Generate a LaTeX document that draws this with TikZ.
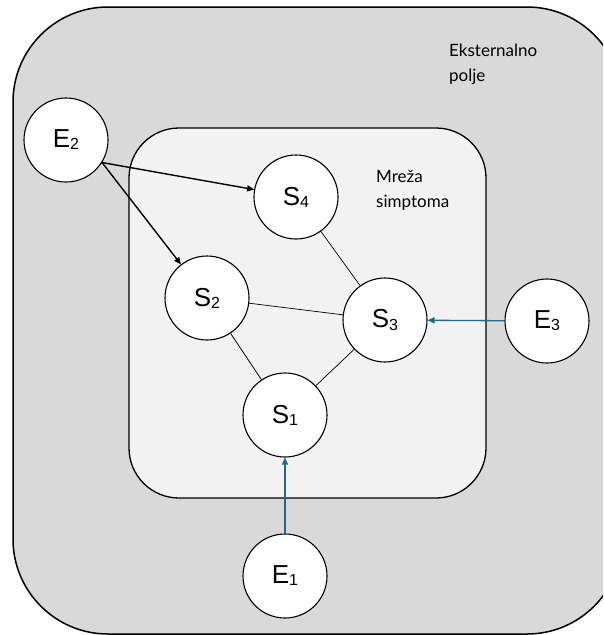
\documentclass[tikz,border=0pt]{standalone}
\usepackage{fontspec}
\setmainfont{Liberation Sans}
\newfontfamily\notefont{Lato}
\usetikzlibrary{arrows.meta}
\definecolor{outerfill}{HTML}{D9D9D9}
\definecolor{innerfill}{HTML}{F2F2F2}
\definecolor{linkblue}{HTML}{1F6A8A}
\newcommand{\lowsub}[1]{\raisebox{-0.08em}{\fontsize{16}{16}\selectfont #1}}

\begin{document}
\begin{tikzpicture}[x=1pt,y=-1pt,>={Triangle[length=7pt,width=6pt]},
  main node/.style={circle,draw,fill=white,line width=1.1pt,minimum size=84pt,inner sep=0pt,font=\fontsize{26}{26}\selectfont},
  note/.style={align=left,anchor=north west,inner sep=0pt,font=\notefont\fontsize{17}{25}\selectfont}]
  \useasboundingbox (0,0) rectangle (603,635);
  \clip (0,0) rectangle (603,635);
  % fields
  \draw[fill=outerfill,line width=1.5pt,rounded corners=95pt] (13,7) rectangle (622,634);
  \draw[fill=innerfill,line width=1.3pt,rounded corners=50pt] (129,128) rectangle (486,498);
  \node[note] (ext) at (449,44) {Eksternalno\\polje};
  \node[note] (net) at (376,170) {Mreža\\simptoma};

  \node[main node] (E2) at (66,140) {E\lowsub{2}};
  \node[main node] (S4) at (296,197) {S\lowsub{4}};
  \node[main node] (S2) at (207,298) {S\lowsub{2}};
  \node[main node] (S3) at (385,320) {S\lowsub{3}};
  \node[main node] (S1) at (285,415) {S\lowsub{1}};
  \node[main node] (E3) at (547,321) {E\lowsub{3}};
  \node[main node] (E1) at (285,576) {E\lowsub{1}};

  \path[line width=0.7pt]
    (S4) edge (S3)
    (S2) edge (S3)
    (S2) edge (S1)
    (S3) edge (S1)
    ;
  \path[->,line width=1.4pt]
    (E2.-32) edge (S4)
    (E2.-32) edge (S2)
    ;
  \path[->,linkblue,line width=1.3pt]
    (E3) edge (S3)
    (E1) edge (S1)
    ;
\end{tikzpicture}
\end{document}
